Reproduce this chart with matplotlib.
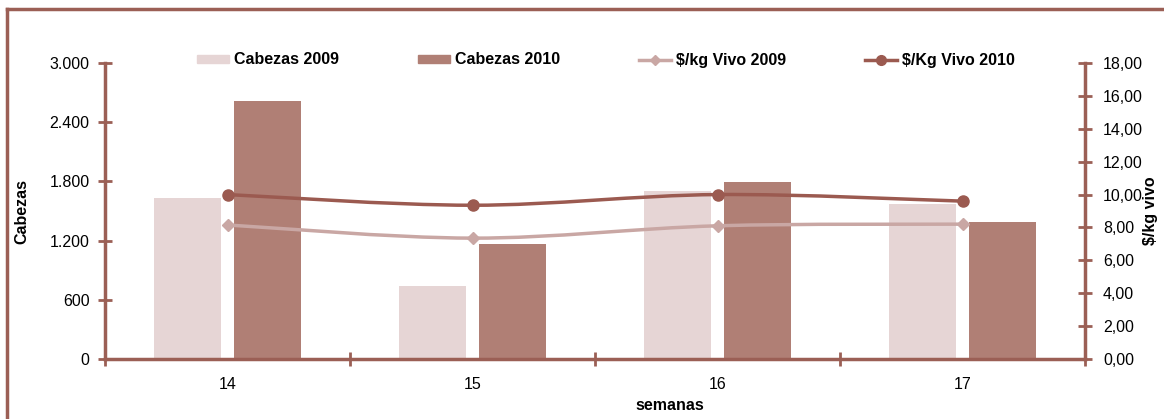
import matplotlib.pyplot as plt
from matplotlib.path import Path
from matplotlib.patches import PathPatch
from matplotlib.lines import Line2D
from matplotlib.patches import Patch
from matplotlib.ticker import FuncFormatter, FixedLocator

plt.rcParams['font.family'] = ['Liberation Sans', 'DejaVu Sans']

semanas = ['14', '15', '16', '17']
cabezas_2009 = [1630, 740, 1700, 1570]
cabezas_2010 = [2615, 1165, 1795, 1390]
precio_2009 = [8.15, 7.35, 8.10, 8.20]
precio_2010 = [10.00, 9.35, 10.00, 9.60]

c_bar09 = '#e6d5d5'
c_bar10 = '#b07f75'
c_line09 = '#c9a7a4'
c_line10 = '#9b5a50'
c_axis = '#9b5f55'

FS = 11.5


def smooth_path(xs, ys):
    # bezier segments through the points, like a spreadsheet "smoothed line"
    pts = list(zip(xs, ys))
    verts = [pts[0]]
    codes = [Path.MOVETO]
    n = len(pts)
    for i in range(n - 1):
        p0 = pts[i - 1] if i > 0 else pts[i]
        p1 = pts[i]
        p2 = pts[i + 1]
        p3 = pts[i + 2] if i + 2 < n else pts[i + 1]
        c1 = (p1[0] + (p2[0] - p0[0]) / 6, p1[1] + (p2[1] - p0[1]) / 6)
        c2 = (p2[0] - (p3[0] - p1[0]) / 6, p2[1] - (p3[1] - p1[1]) / 6)
        verts += [c1, c2, p2]
        codes += [Path.CURVE4] * 3
    return Path(verts, codes)


fig = plt.figure(figsize=(11.64, 4.19), dpi=100)
ax = fig.add_axes([105 / 1164, 60 / 419, 980 / 1164, 296 / 419])
ax2 = ax.twinx()

x = list(range(len(semanas)))
w = 0.27
off = 0.1635
ax.bar([i - off for i in x], cabezas_2009, width=w, color=c_bar09, zorder=2)
ax.bar([i + off for i in x], cabezas_2010, width=w, color=c_bar10, zorder=2)

ax.set_xlim(-0.5, len(semanas) - 0.5)
ax.set_ylim(0, 3000)
ax.set_yticks([0, 600, 1200, 1800, 2400, 3000])
ax.yaxis.set_major_formatter(FuncFormatter(lambda v, p: f'{int(v):,}'.replace(',', '.')))
ax.set_xticks(x)
ax.set_xticklabels(semanas)
ax.xaxis.set_minor_locator(FixedLocator([i + 0.5 for i in range(-1, len(semanas))]))
ax.tick_params(axis='x', which='major', length=0, pad=13, labelsize=FS)
ax.tick_params(axis='x', which='minor', length=10, width=2, color=c_axis, direction='inout')
ax.tick_params(axis='y', length=10, width=2, color=c_axis, direction='inout', labelsize=FS, pad=6)

ax2.set_ylim(0, 18)
ax2.set_yticks(range(0, 19, 2))
ax2.yaxis.set_major_formatter(FuncFormatter(lambda v, p: f'{v:.2f}'.replace('.', ',')))
ax2.tick_params(axis='y', length=10, width=2, color=c_axis, direction='inout', labelsize=FS, pad=8)

ax2.add_patch(PathPatch(smooth_path(x, precio_2009), fill=False, edgecolor=c_line09, lw=2.5, zorder=3))
ax2.add_patch(PathPatch(smooth_path(x, precio_2010), fill=False, edgecolor=c_line10, lw=2.5, zorder=3))
ax2.plot(x, precio_2009, ls='none', marker='D', ms=6, color=c_line09, zorder=4)
ax2.plot(x, precio_2010, ls='none', marker='o', ms=8, color=c_line10, zorder=4)

for a in (ax, ax2):
    a.spines['top'].set_visible(False)
    for s in ('left', 'right', 'bottom'):
        a.spines[s].set_color(c_axis)
        a.spines[s].set_linewidth(2.5)
ax.spines['right'].set_visible(False)
ax2.spines['left'].set_visible(False)
ax2.spines['bottom'].set_visible(False)

ax.set_ylabel('Cabezas', fontsize=FS, fontweight='bold')
ax.yaxis.set_label_coords(-76 / 980, 0.5)
ax2.set_ylabel('$/kg vivo', fontsize=FS, fontweight='bold')
ax2.yaxis.set_label_coords(1 + 58 / 980, 0.5)
ax.set_xlabel('semanas', fontsize=FS, fontweight='bold')
ax.xaxis.set_label_coords(565 / 980, -39 / 296)

handles = [
    Patch(color=c_bar09, label='Cabezas 2009'),
    Patch(color=c_bar10, label='Cabezas 2010'),
    Line2D([], [], color=c_line09, lw=2.5, marker='D', ms=5, label='$/kg Vivo 2009'),
    Line2D([], [], color=c_line10, lw=2.5, marker='o', ms=7, label='$/Kg Vivo 2010'),
]
fig.legend(handles=handles, loc='center', bbox_to_anchor=(606 / 1164, 1 - 60 / 419), ncol=4,
           frameon=False, prop={'weight': 'bold', 'size': FS}, columnspacing=4.95,
           handlelength=2.0, handletextpad=0.3, handleheight=0.45)

# outer chart frame
fig.add_artist(Line2D([7 / 1164, 7 / 1164], [0, 1 - 9.5 / 419], color=c_axis, lw=2.5,
                      transform=fig.transFigure))
fig.add_artist(Line2D([7 / 1164, 1], [1 - 9.5 / 419, 1 - 9.5 / 419], color=c_axis, lw=2.5,
                      transform=fig.transFigure))

fig.savefig('out.png', dpi=100)
